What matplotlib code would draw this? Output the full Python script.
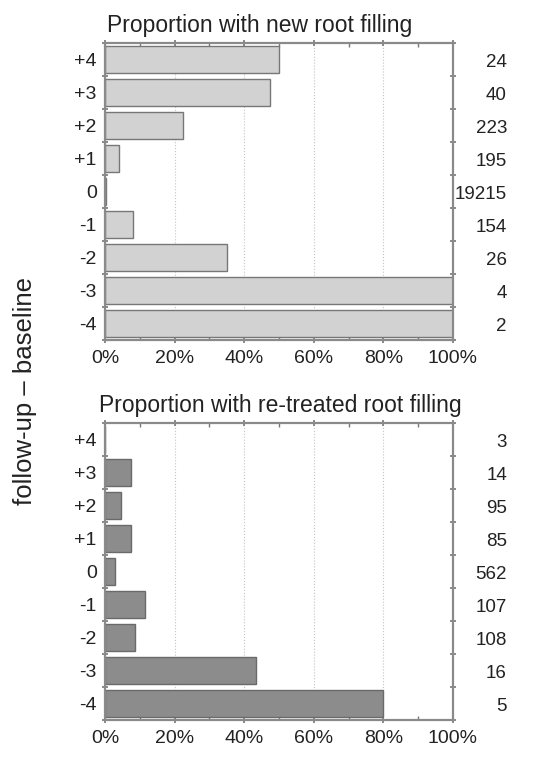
import numpy as np
import matplotlib
matplotlib.use("Agg")
import matplotlib.pyplot as plt
from matplotlib.ticker import MultipleLocator, FuncFormatter

plt.rcParams['font.family'] = ['Liberation Sans', 'DejaVu Sans']

# follow-up minus baseline categories, top to bottom
diffs = [4, 3, 2, 1, 0, -1, -2, -3, -4]
diff_labels = ['+4', '+3', '+2', '+1', '0', '-1', '-2', '-3', '-4']

# proportion with new root filling (%) and number of teeth
new_pct = [50, 47.5, 22.5, 4, 0.3, 8, 35, 100, 100]
new_n = [24, 40, 223, 195, 19215, 154, 26, 4, 2]

# proportion with re-treated root filling (%) and number of teeth
retr_pct = [0, 7.5, 4.5, 7.5, 3, 11.5, 8.5, 43.5, 80]
retr_n = [3, 14, 95, 85, 562, 107, 108, 16, 5]

fig = plt.figure(figsize=(5.44, 7.63), dpi=100)

ax_left = 105 / 544
ax_w = 348 / 544
top_ax = fig.add_axes([ax_left, 1 - 340 / 763, ax_w, 297 / 763])
bot_ax = fig.add_axes([ax_left, 1 - 720 / 763, ax_w, 297 / 763])

panels = [
    (top_ax, new_pct, new_n, '#d2d2d2', '#777777', 'Proportion with new root filling', 0.005),
    (bot_ax, retr_pct, retr_n, '#8c8c8c', '#6a6a6a', 'Proportion with re-treated root filling', -0.016),
]

for ax, pct, counts, fc, ec, title, tx in panels:
    ax.set_axisbelow(True)
    ax.grid(axis='x', which='major', color='#c4c4c4', lw=0.8, ls=':')
    ax.barh(diffs, pct, height=0.82, color=fc, edgecolor=ec, linewidth=1.0)
    ax.set_xlim(0, 100)
    ax.set_ylim(-4.5, 4.5)
    ax.set_yticks(diffs)
    ax.set_yticklabels(diff_labels)
    ax.yaxis.set_minor_locator(MultipleLocator(1, offset=0.5))
    ax.xaxis.set_major_locator(MultipleLocator(20))
    ax.xaxis.set_minor_locator(MultipleLocator(10))
    ax.xaxis.set_major_formatter(FuncFormatter(lambda v, p: f'{v:.0f}%'))
    ax.tick_params(axis='both', which='major', labelsize=14, colors='#777777',
                   labelcolor='#222222', length=0, pad=6)
    ax.tick_params(axis='x', which='major', length=5, direction='inout',
                   top=True, width=1.2, pad=5)
    ax.tick_params(axis='x', which='minor', length=3, direction='in',
                   top=True, colors='#777777', width=1.0)
    ax.tick_params(axis='y', which='minor', length=5, direction='inout',
                   right=True, colors='#777777', width=1.2)
    for sp in ax.spines.values():
        sp.set_color('#8a8a8a')
        sp.set_linewidth(1.6)
    for d, n in zip(diffs, counts):
        ax.text(1.155, d - 0.1, str(n), transform=ax.get_yaxis_transform(),
                ha='right', va='center', fontsize=13.5, color='#222222')
    ax.set_title(title, fontsize=16.5, color='#222222', pad=8, x=tx, ha='left')

fig.text(0.046, 0.488, 'follow-up \u2013 baseline', rotation=90, ha='center',
         va='center', fontsize=18.5, color='#222222')

fig.savefig('out.png', dpi=100)
